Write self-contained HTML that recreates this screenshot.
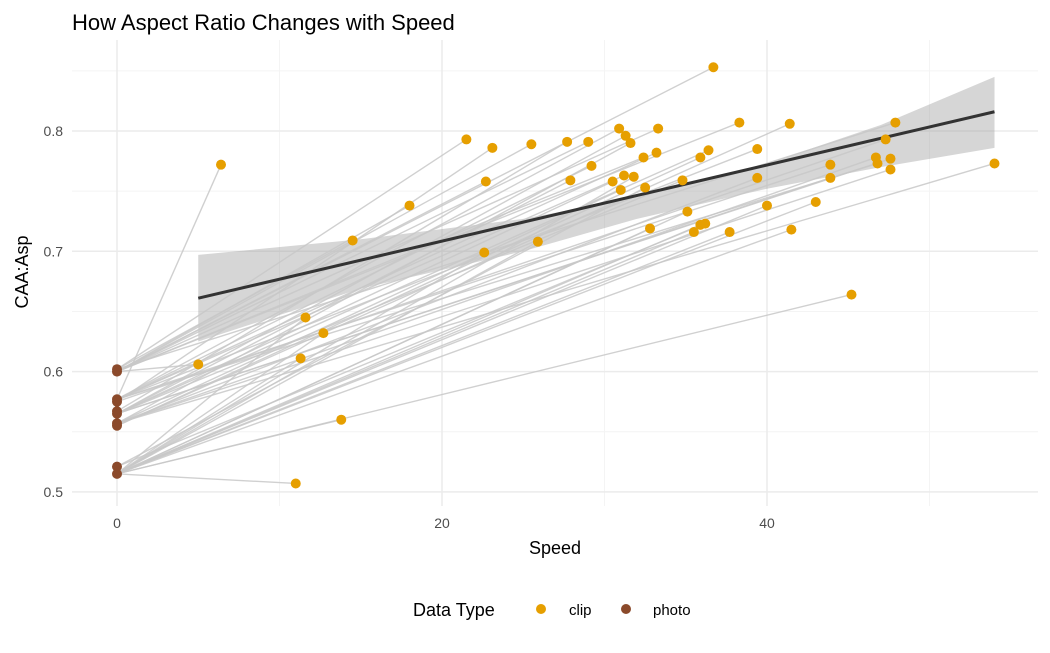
<!DOCTYPE html>
<html><head><meta charset="utf-8"><style>
body{margin:0;background:#fff;font-family:"Liberation Sans",sans-serif}
svg text{font-family:"Liberation Sans",sans-serif}
</style></head><body>
<svg id="c" width="1050" height="648">
<text x="72" y="30" font-size="22" fill="#000">How Aspect Ratio Changes with Speed</text>
<g id="grid"></g><g id="band"></g><g id="links"></g><g id="fit"></g><g id="pts"></g><g id="axes"></g>
<text x="555" y="554" font-size="18" text-anchor="middle" fill="#000">Speed</text>
<text transform="translate(28,272) rotate(-90)" font-size="18" text-anchor="middle" fill="#000">CAA:Asp</text>
<g>
<text x="413" y="616" font-size="18" fill="#000">Data Type</text>
<circle cx="541" cy="609" r="5" fill="#E69F00"/>
<text x="569" y="615" font-size="15" fill="#000">clip</text>
<circle cx="626" cy="609" r="5" fill="#8B4A2B"/>
<text x="653" y="615" font-size="15" fill="#000">photo</text>
</g>
</svg>
<script>
const xTicks=[0,20,40];
const yTicks=[0.5,0.6,0.7,0.8];
const photoY=[0.6,0.577,0.565,0.557,0.521,0.515,0.602,0.575,0.567,0.555];
const clipX=[36.7,6.4,5.0,11.6,11.3,12.7,11.0,13.8,14.5,18.0,21.5,23.1,25.5,27.7,29.0,30.9,31.3,31.6,33.3,33.2,34.8,38.3,41.4,39.4,36.4,37.7,39.4,40.0,35.9,36.2,35.5,35.1,32.8,30.5,31.0,31.2,31.8,32.4,32.5,29.2,27.9,22.7,22.6,25.9,43.9,43.9,41.5,43.0,45.2,46.7,46.8,47.3,47.6,47.6,47.9,54.0,35.9];
const clipY=[0.853,0.772,0.606,0.645,0.611,0.632,0.507,0.560,0.709,0.738,0.793,0.786,0.789,0.791,0.791,0.802,0.796,0.790,0.802,0.782,0.759,0.807,0.806,0.785,0.784,0.716,0.761,0.738,0.722,0.723,0.716,0.733,0.719,0.758,0.751,0.763,0.762,0.778,0.753,0.771,0.759,0.758,0.699,0.708,0.772,0.761,0.718,0.741,0.664,0.778,0.773,0.793,0.777,0.768,0.807,0.773,0.778];
const clipLink=[0,1,0,5,5,5,5,5,6,0,6,7,0,8,0,1,2,3,0,1,2,0,9,1,2,5,3,5,5,4,5,5,5,2,3,1,5,0,4,1,2,0,5,5,1,2,5,5,5,3,1,7,2,3,6,3,9];
const fitX=[5,54];
const fitY=[0.661,0.816];
const bandX=[5,15,25,32,40,47,54];
const bandUp=[0.697,0.710,0.727,0.745,0.773,0.805,0.845];
const bandLo=[0.625,0.669,0.700,0.727,0.752,0.770,0.786];
const NS='http://www.w3.org/2000/svg';
const X=v=>117+v*16.25, Y=v=>131-(v-0.8)*1203;
function mk(p,t,a){const e=document.createElementNS(NS,t);for(const k in a)e.setAttribute(k,a[k]);document.getElementById(p).appendChild(e);return e;}
[10,30,50].forEach(v=>{const e=mk('grid','line',{x1:X(v),x2:X(v),y1:40,y2:506,stroke:'#f4f4f4','stroke-width':1});});
[0.55,0.65,0.75,0.85].forEach(v=>{const e=mk('grid','line',{x1:72,x2:1038,y1:Y(v),y2:Y(v),stroke:'#f4f4f4','stroke-width':1});});
xTicks.forEach(v=>{const e=mk('grid','line',{x1:X(v),x2:X(v),y1:40,y2:506,stroke:'#ebebeb','stroke-width':1.5});
const t=mk('axes','text',{x:X(v),y:528,'font-size':14,fill:'#4d4d4d','text-anchor':'middle'});t.textContent=v;});
yTicks.forEach(v=>{const e=mk('grid','line',{x1:72,x2:1038,y1:Y(v),y2:Y(v),stroke:'#ebebeb','stroke-width':1.5});
const t=mk('axes','text',{x:63,y:Y(v)+5,'font-size':14,fill:'#4d4d4d','text-anchor':'end'});t.textContent=v.toFixed(1);});
let d='M'+bandX.map((x,i)=>X(x)+','+Y(bandUp[i])).join('L')+'L'+bandX.slice().reverse().map((x,i)=>X(x)+','+Y(bandLo[bandX.length-1-i])).join('L')+'Z';
const b=mk('band','path',{d:d,fill:'#999','fill-opacity':0.4});


clipX.forEach((x,i)=>{const e=mk('links','line',{x1:X(0),y1:Y(photoY[clipLink[i]]),x2:X(x),y2:Y(clipY[i]),stroke:'#c8c8c8','stroke-opacity':0.85,'stroke-width':1.4});

});
const f=mk('fit','line',{x1:X(fitX[0]),y1:Y(fitY[0]),x2:X(fitX[1]),y2:Y(fitY[1]),stroke:'#333','stroke-width':3});


photoY.forEach(v=>{const e=mk('pts','circle',{cx:X(0),cy:Y(v),r:5,fill:'#8B4A2B'});

});
clipX.forEach((x,i)=>{const e=mk('pts','circle',{cx:X(x),cy:Y(clipY[i]),r:5,fill:'#E69F00'});

});
</script>
</body></html>
